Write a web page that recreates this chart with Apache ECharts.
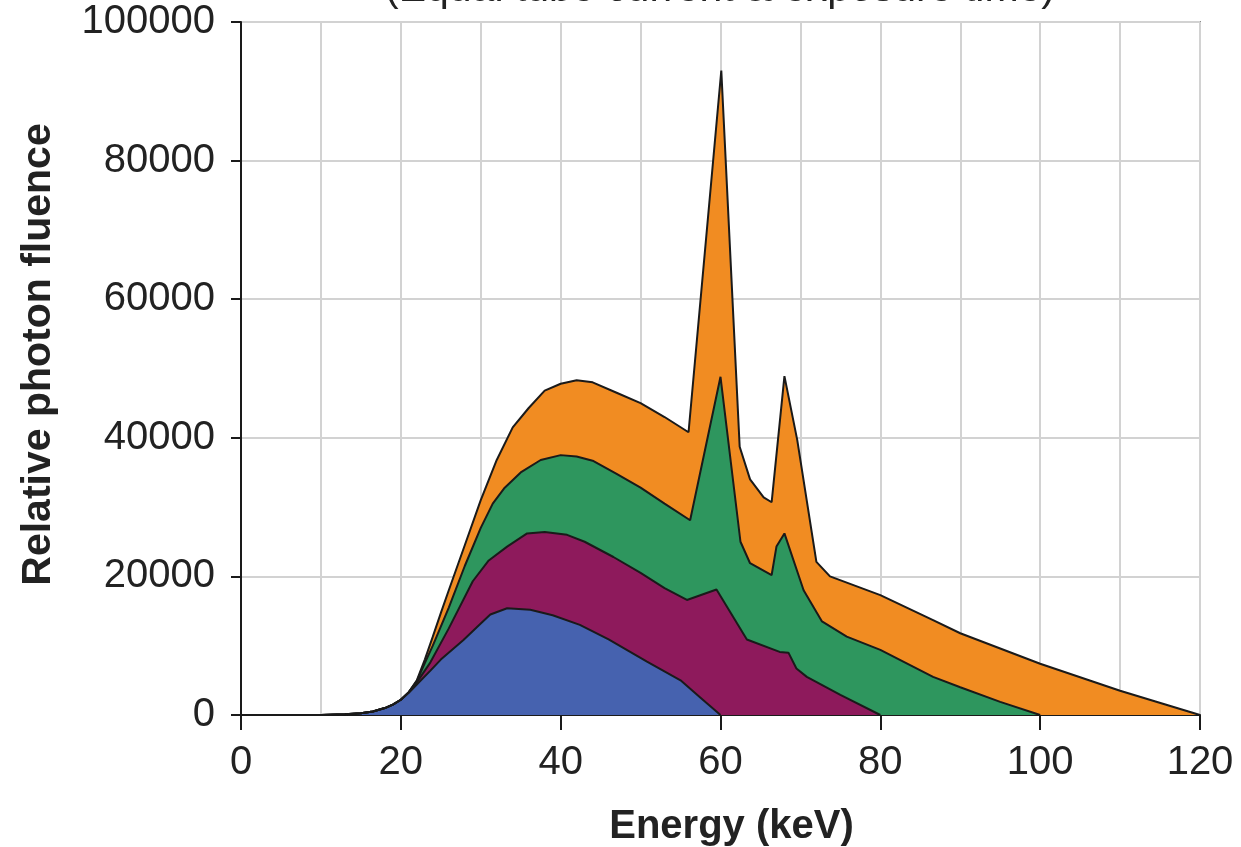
<!DOCTYPE html>
<html>
<head>
<meta charset="utf-8">
<script src="https://cdn.jsdelivr.net/npm/echarts@6/dist/echarts.min.js"></script>
<style>
    html, body { margin: 0; padding: 0; background: #fff; }
    #spectrum { width: 1241px; height: 847px; }
</style>
</head>
<body>
<div id="spectrum"></div>
<script>
    // 120 kVp spectrum (orange, drawn behind)
    var energy120 = [0, 10, 13, 15, 16.5, 18, 19, 20, 21, 22, 23, 24, 25, 26, 28, 30, 32, 34, 36, 38, 40, 42, 44, 47, 50, 53, 56, 60.1, 62.4, 63.7, 65.4, 66.4, 66.6, 68, 69.6, 72, 73.7, 80, 86.6, 90, 100, 110, 120];
    var fluence120 = [0, 0, 100, 250, 500, 1000, 1500, 2200, 3300, 5000, 8000, 11300, 14700, 18000, 24500, 31000, 36800, 41500, 44300, 46800, 47800, 48300, 48000, 46500, 45000, 43000, 40800, 93000, 38700, 34000, 31400, 30700, 33000, 48900, 39700, 22100, 20000, 17300, 13700, 11800, 7400, 3500, 0];

    // 100 kVp spectrum (green)
    var energy100 = [0, 10, 13, 15, 16.5, 18, 19, 20, 21, 22, 23, 24, 26, 28, 30, 31.5, 33, 35, 37.5, 40, 42, 44, 47, 50, 53, 56.2, 60, 62.5, 63.7, 66.4, 67, 68, 70.4, 72.7, 75.8, 80, 86.6, 90, 95, 100];
    var fluence100 = [0, 0, 100, 250, 500, 1000, 1500, 2200, 3300, 4900, 7500, 10000, 15500, 21500, 27000, 30500, 32800, 35000, 36800, 37500, 37300, 36700, 34800, 32800, 30500, 28100, 48800, 25000, 21900, 20200, 24300, 26200, 18000, 13500, 11300, 9400, 5500, 4000, 1900, 0];

    // 80 kVp spectrum (purple)
    var energy80 = [0, 10, 13, 15, 16.5, 18, 19, 20, 21, 22, 23.7, 26, 29, 31, 33.3, 35.8, 38, 40.8, 43, 46.6, 50, 53, 55.8, 59.5, 63.3, 67.4, 68.5, 69.5, 70.8, 75, 80];
    var fluence80 = [0, 0, 100, 250, 500, 1000, 1500, 2200, 3300, 4700, 7600, 12500, 19300, 22300, 24300, 26200, 26400, 26000, 25000, 22800, 20500, 18300, 16600, 18100, 10900, 9100, 9000, 6700, 5500, 2900, 0];

    // 60 kVp spectrum (blue, drawn in front)
    var energy60 = [0, 10, 13, 15, 16.5, 18, 19, 20, 21, 22, 23.7, 25, 27.8, 30, 31.2, 33.3, 36.2, 39, 42.4, 46, 50.8, 55, 57.5, 60];
    var fluence60 = [0, 0, 100, 250, 500, 1000, 1500, 2200, 3200, 4400, 6400, 8000, 10800, 13200, 14500, 15400, 15200, 14400, 13000, 10900, 7700, 5000, 2500, 0];

    var xTicks = [0, 20, 40, 60, 80, 100, 120];
    var yTicks = [0, 20000, 40000, 60000, 80000, 100000];

    function pairs(xs, ys) {
        var out = [];
        for (var i = 0; i < xs.length; i++) {
            out.push([xs[i], ys[i]]);
        }
        return out;
    }

    function spectrum(name, color, xs, ys) {
        return {
            name: name,
            type: 'line',
            data: pairs(xs, ys),
            showSymbol: false,
            silent: true,
            lineStyle: { color: '#1a1a1a', width: 2 },
            areaStyle: { color: color, opacity: 1 }
        };
    }

    var textColor = '#222';
    var fontFamily = '"Liberation Sans", Arial, sans-serif';

    var chart = echarts.init(document.getElementById('spectrum'), null, { renderer: 'canvas' });
    var option = {
        animation: false,
        title: {
            text: '(Equal tube current & exposure time)',
            left: 385,
            top: -31,
            padding: 0,
            textStyle: { fontSize: 41, fontWeight: 'normal', color: textColor, fontFamily: fontFamily }
        },
        grid: {
            left: 241,
            right: 41,
            top: 22,
            bottom: 132,
            outerBoundsMode: 'none',
            containLabel: false,
            show: true,
            borderColor: '#8c8c8c',
            borderWidth: 2
        },
        xAxis: {
            type: 'value',
            min: xTicks[0],
            max: xTicks[xTicks.length - 1],
            interval: 20,
            name: 'Energy (keV)',
            nameLocation: 'middle',
            nameGap: 92,
            nameTextStyle: { fontSize: 40, fontWeight: 'bold', color: textColor, fontFamily: fontFamily, padding: [0, 0, 0, 22] },
            axisLine: { show: true, lineStyle: { color: '#1a1a1a', width: 2 } },
            axisTick: { show: true, length: 15, lineStyle: { color: '#1a1a1a', width: 2 } },
            axisLabel: { fontSize: 40, color: textColor, fontFamily: fontFamily, margin: 28 },
            splitLine: { show: true, lineStyle: { color: '#d2d2d2', width: 2 } },
            minorTick: { show: false, splitNumber: 2 },
            minorSplitLine: { show: true, lineStyle: { color: '#d2d2d2', width: 2 } }
        },
        yAxis: {
            type: 'value',
            min: yTicks[0],
            max: yTicks[yTicks.length - 1],
            interval: 20000,
            name: 'Relative photon fluence',
            nameLocation: 'middle',
            nameGap: 182,
            nameTextStyle: { fontSize: 41, fontWeight: 'bold', color: textColor, fontFamily: fontFamily, padding: [0, 0, 0, 28] },
            axisLine: { show: true, lineStyle: { color: '#1a1a1a', width: 2 } },
            axisTick: { show: true, length: 10, lineStyle: { color: '#1a1a1a', width: 2 } },
            axisLabel: {
                fontSize: 40, color: textColor, fontFamily: fontFamily, margin: 26,
                formatter: function (v) { return String(v); }
            },
            splitLine: { show: true, lineStyle: { color: '#d2d2d2', width: 2 } }
        },
        series: [
            spectrum('120 kVp', '#f18c22', energy120, fluence120),
            spectrum('100 kVp', '#2e965e', energy100, fluence100),
            spectrum('80 kVp', '#8e1a5c', energy80, fluence80),
            spectrum('60 kVp', '#4662af', energy60, fluence60)
        ]
    };
    chart.setOption(option);
</script>
</body>
</html>
